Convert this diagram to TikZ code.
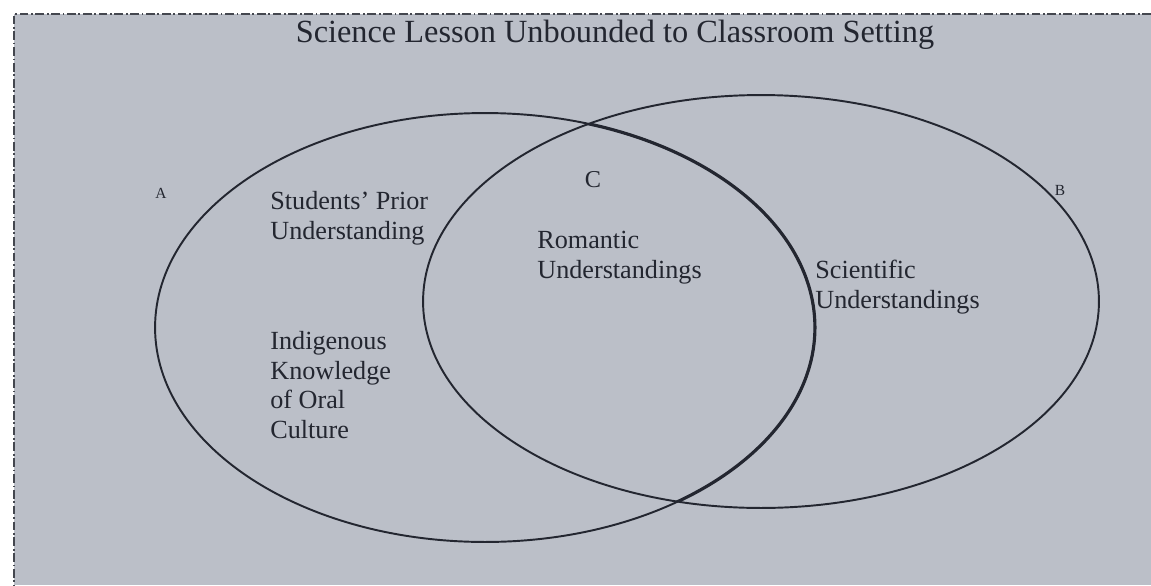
\documentclass[tikz,border=0pt]{standalone}
\usepackage{fontspec}
\setmainfont{Liberation Serif}
\usetikzlibrary{shapes.geometric}
\definecolor{paper}{RGB}{187,191,200}
\definecolor{ink}{RGB}{35,38,48}
\tikzstyle{frame} = [draw=ink!85, line width=0.8pt, dash pattern=on 5pt off 1.5pt on 1pt off 1.5pt]
\tikzstyle{set} = [ellipse, draw=ink, line width=1.1pt, inner sep=0pt]
\tikzstyle{heading} = [inner sep=0pt, text=ink, font=\fontsize{18.4}{22}\selectfont]
\tikzstyle{region} = [inner sep=0pt, anchor=base west, align=left, text=ink, font=\fontsize{14.9}{16.7}\selectfont]
\tikzstyle{tag} = [inner sep=0pt, text=ink, font=\fontsize{8.8}{10}\selectfont]

\begin{document}
\begin{tikzpicture}[x=0.02cm, y=-0.02cm]
\useasboundingbox (0,0) rectangle (1151,585);
\fill [paper] (14,14) rectangle (1151,585);
\draw [frame] (1151,14) -- (14,14) -- (14,585);

\node (title) [heading, anchor=base] at (615,42) {Science Lesson Unbounded to Classroom Setting};

\node (setA) [set, minimum width=13.2cm, minimum height=8.58cm] at (485,327.5) {};
\node (setB) [set, minimum width=13.52cm, minimum height=8.26cm] at (761,301.5) {};
% the part of A inside B is traced heavier
\begin{scope}
\clip (setB.center) ellipse [x radius=6.76cm, y radius=4.13cm];
\draw [ink, line width=1.8pt] (setA.center) ellipse [x radius=6.6cm, y radius=4.29cm];
\end{scope}

\node (tagA) [tag] at (161,193) {A};
\node (tagB) [tag] at (1060,190) {B};
\node (tagC) [tag, font=\fontsize{13.8}{16}\selectfont] at (593,180) {C};

% base sits on the last line
\node (prior) [region] at (270,239) {Students' Prior\\Understanding};
\node (indig) [region] at (270,438) {Indigenous\\Knowledge\\of Oral\\Culture};
\node (roman) [region] at (537,278) {Romantic\\Understandings};
\node (scien) [region] at (815,308) {Scientific\\Understandings};

\end{tikzpicture}
\end{document}
